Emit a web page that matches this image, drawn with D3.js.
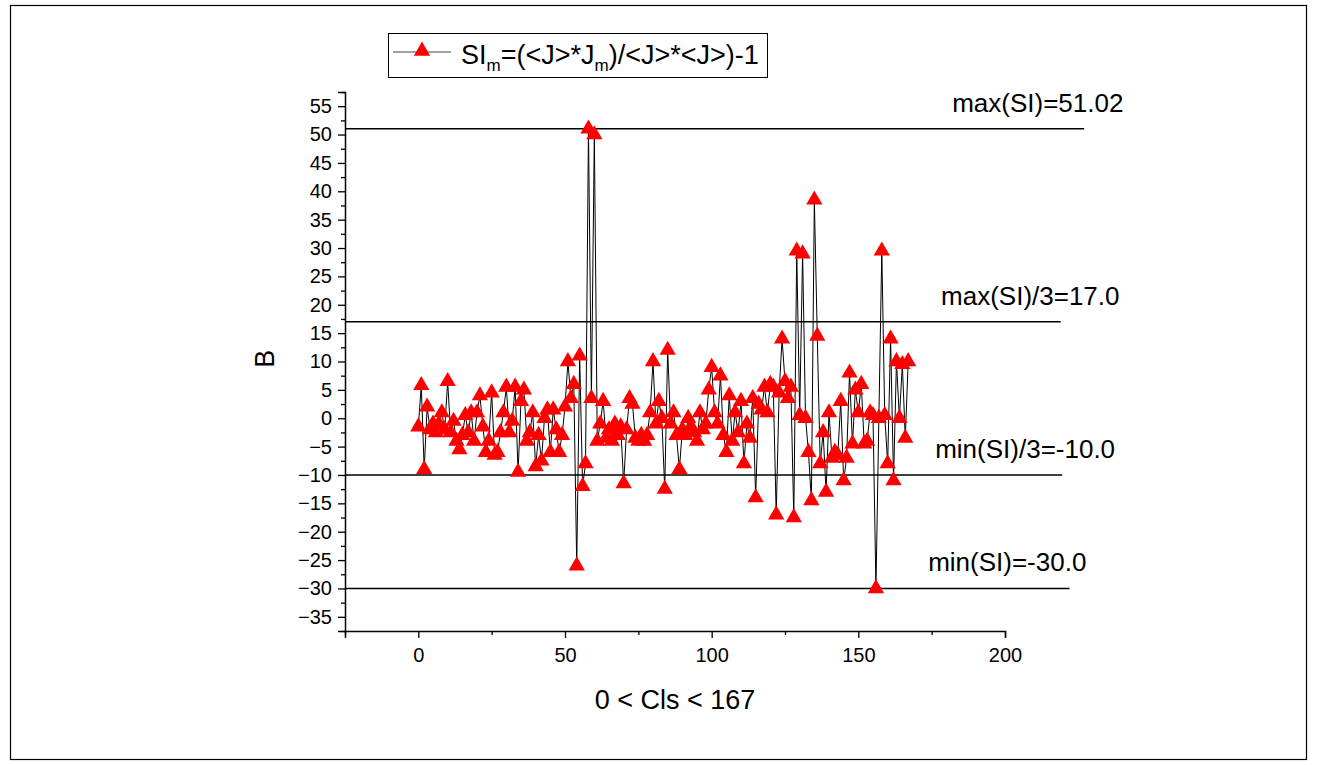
<!DOCTYPE html>
<html>
<head>
<meta charset="utf-8">
<script src="https://cdn.jsdelivr.net/npm/d3@7"></script>
<style>
  body { margin: 0; background: #fff; }
  svg text { font-family: "Liberation Sans", Arial, sans-serif; fill: #000; }
</style>
</head>
<body>
<svg id="chart" width="1317" height="765"></svg>
<script>
// SI index per cluster (0 .. 167)
const siValues = [
  -1.5, 5.8, -9, 2, -2, -1, -2.5, -1, 1, -2,
  6.5, -2.5, -0.5, -4, -5.5, -3, 0.5, -2.5, 1, -4,
  1, 4, -1.5, -6, -4, 4.5, -6.5, -6, -2.5, 1,
  5.5, -2.5, -0.5, 5.5, -9.5, 3, 5, -4, -2.5, 1,
  -8.5, -3, -7.5, 0, 1.5, -6, 1.5, -2, -6, -3,
  2, 10, 3.5, 6, -26, 11, -12, -8, 51, 3.5,
  50, -4, -1, 3, -3.5, -2, -4, -1, -3, -1.5,
  -11.5, -2, 3.5, 2.5, -3.5, -4, -3, -4, -3, 1,
  10, -1, 3, 0, -12.5, 12, -1, 1, -3, -9,
  -2, -3, 0, -1.5, -2.5, -4, 1, -2, -1, 5,
  9, 1, -1, 7.5, -3, -6, 4, -4, 1, -2.5,
  3, -8, -1, -3.5, 3.5, -14, 2.5, 1.5, 5.5, 1,
  6, 5.5, -17, 4.5, 14, 6.5, 3.5, 5.5, -17.5, 29.5,
  0.5, 29, 0, -6, -14.5, 38.5, 14.5, -8, -2.5, -13,
  1, -7, -6, -6.5, 3, -11, -7, 8, -4.5, 5,
  1, 6, -4.5, -4, 1, 0.5, -30, 0, 29.5, 0.5,
  -8, 14, -11, 10, 0, 9.5, -3.5, 10
];
const clusterIds = siValues.map((_, i) => i);

// threshold lines: value and label
const refValues = [51.02, 17.0, -10.0, -30.0];
const refLabels = ["max(SI)=51.02", "max(SI)/3=17.0", "min(SI)/3=-10.0", "min(SI)=-30.0"];
const refEnds = [227, 219, 219.5, 222];          // x extent (data units) of each line
const refLabelX = [182, 178.2, 176.2, 173.8];     // label start (data units)

const xTicks = [0, 50, 100, 150, 200];
const xMinorTicks = [-25, 25, 75, 125, 175];
const yTicks = [-35, -30, -25, -20, -15, -10, -5, 0, 5, 10, 15, 20, 25, 30, 35, 40, 45, 50, 55];

const xTitle = "0 < Cls < 167";
const yTitle = "B";

const svg = d3.select("#chart");

// outer frame
svg.append("rect")
  .attr("x", 10.5).attr("y", 5.5)
  .attr("width", 1296).attr("height", 754)
  .attr("fill", "none").attr("stroke", "#000").attr("stroke-width", 1.2);

const x = d3.scaleLinear().domain([-25, 200]).range([345, 1005]);
const y = d3.scaleLinear().domain([-37.5, 57.5]).range([631, 92]);

// x axis
const xAxis = svg.append("g").attr("transform", `translate(0,${y(-37.5)})`);
xAxis.call(d3.axisBottom(x).tickValues(xTicks).tickSize(7).tickPadding(10).tickFormat(d3.format("d")));
xAxis.append("g").call(d3.axisBottom(x).tickValues(xMinorTicks).tickSize(4).tickFormat(""))
  .select(".domain").remove();
xAxis.selectAll(".domain").attr("stroke-width", 1.5);
xAxis.selectAll(".tick line").attr("stroke-width", 1.3);
xAxis.selectAll("text").attr("font-size", 20);

// y axis
const yMinor = d3.range(-37.5, 57.6, 2.5).filter(v => !yTicks.includes(v));
const yAxis = svg.append("g").attr("transform", `translate(${x(-25)},0)`);
yAxis.call(d3.axisLeft(y).tickValues(yTicks).tickSize(7).tickPadding(6).tickFormat(d3.format("d")));
yAxis.append("g").call(d3.axisLeft(y).tickValues(yMinor).tickSize(4).tickFormat(""))
  .select(".domain").remove();
yAxis.selectAll(".domain").attr("stroke-width", 1.5);
yAxis.selectAll(".tick line").attr("stroke-width", 1.3);
yAxis.selectAll("text").attr("font-size", 20);

// axis titles
svg.append("text")
  .attr("x", (x(-25) + x(200)) / 2).attr("y", 709)
  .attr("text-anchor", "middle").attr("font-size", 27)
  .text(xTitle);
svg.append("text")
  .attr("transform", `translate(274,${y(10.5)}) rotate(-90)`)
  .attr("text-anchor", "middle").attr("font-size", 27)
  .text(yTitle);

// threshold lines and labels
refValues.forEach((v, i) => {
  svg.append("line")
    .attr("x1", x(-25)).attr("x2", x(refEnds[i]))
    .attr("y1", y(v)).attr("y2", y(v))
    .attr("stroke", "#000").attr("stroke-width", 1.5);
  svg.append("text")
    .attr("x", x(refLabelX[i])).attr("y", y(v) - 17)
    .attr("font-size", 26)
    .text(refLabels[i]);
});

// data line
const line = d3.line().x((d, i) => x(clusterIds[i])).y(d => y(d));
svg.append("path")
  .datum(siValues)
  .attr("d", line)
  .attr("fill", "none").attr("stroke", "#000").attr("stroke-width", 1);

// triangle markers
const tri = d3.symbol().type(d3.symbolTriangle).size(115);
svg.append("g").selectAll("path")
  .data(siValues)
  .join("path")
  .attr("d", tri)
  .attr("transform", (d, i) => `translate(${x(clusterIds[i])},${y(d)})`)
  .attr("fill", "#ff0000");

// legend
const lg = svg.append("g");
lg.append("rect")
  .attr("x", 388.5).attr("y", 33.5).attr("width", 379).attr("height", 44)
  .attr("fill", "#fff").attr("stroke", "#000").attr("stroke-width", 1);
lg.append("line")
  .attr("x1", 393).attr("x2", 451).attr("y1", 52).attr("y2", 52)
  .attr("stroke", "#444").attr("stroke-width", 1);
lg.append("path")
  .attr("d", tri)
  .attr("transform", "translate(422,51)")
  .attr("fill", "#ff0000");
const lt = lg.append("text").attr("x", 461).attr("y", 64).attr("font-size", 27);
lt.append("tspan").text("SI");
lt.append("tspan").attr("font-size", 17).attr("dy", 7).text("m");
lt.append("tspan").attr("dy", -7).text("=(<J>*J");
lt.append("tspan").attr("font-size", 17).attr("dy", 7).text("m");
lt.append("tspan").attr("dy", -7).text(")/<J>*<J>)-1");
</script>
</body>
</html>
